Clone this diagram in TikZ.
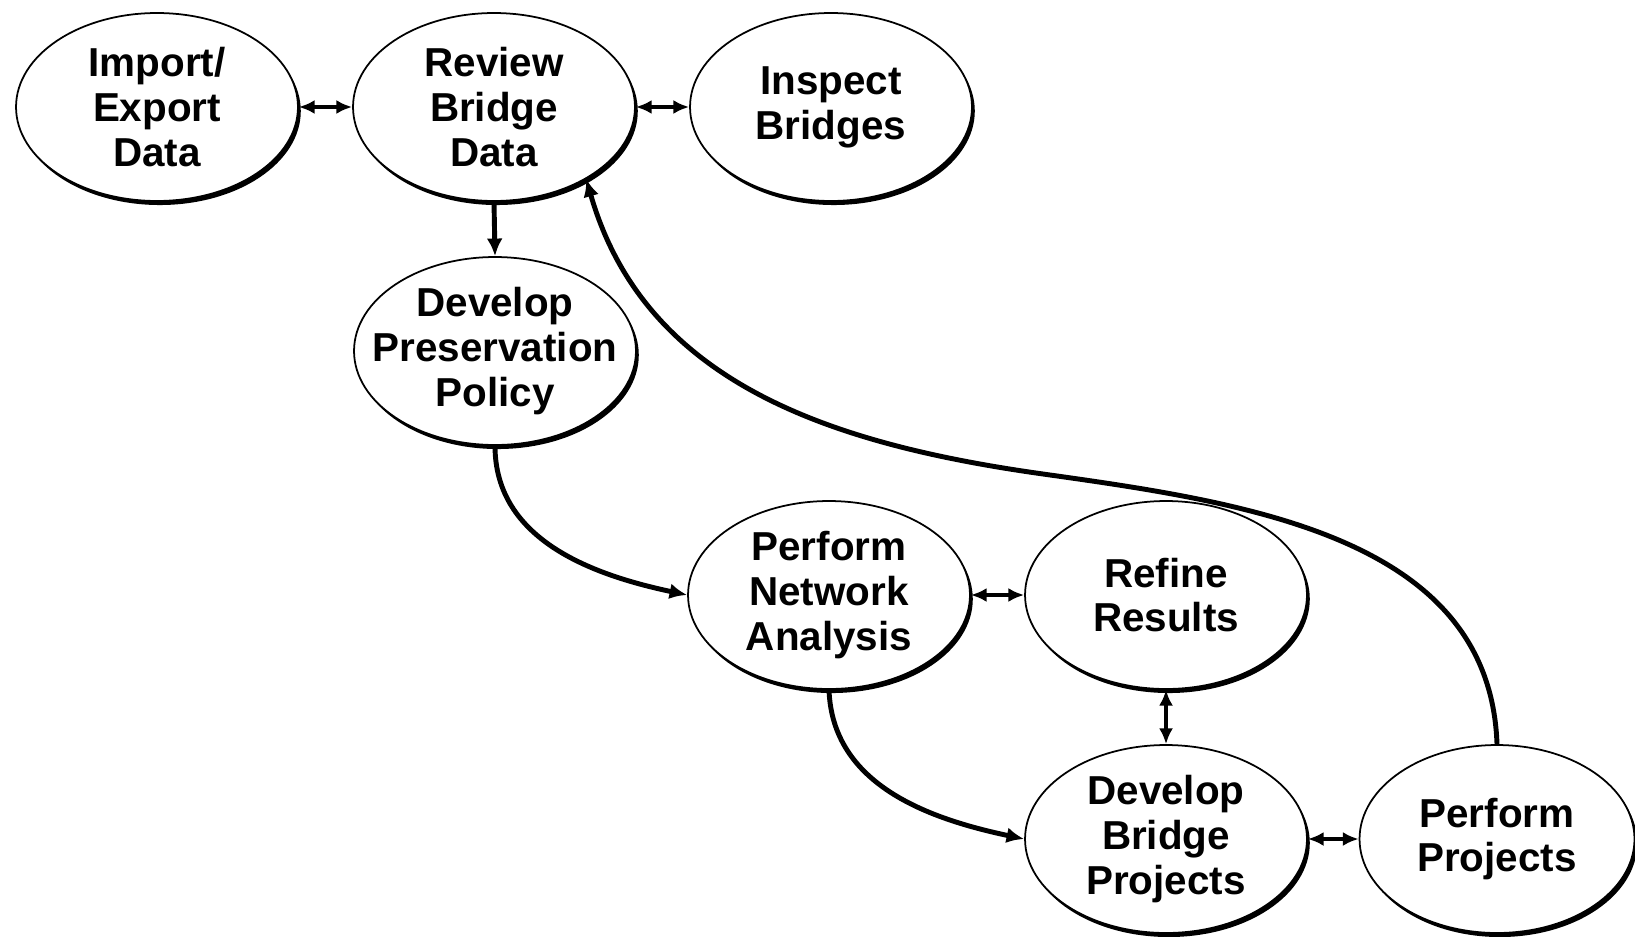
\documentclass[tikz,border=0pt]{standalone}
\usepackage{fontspec}
\setmainfont{Liberation Sans}
\usetikzlibrary{shapes.geometric,shadows,arrows.meta}
\tikzset{
  bub/.style={ellipse, draw=black, line width=1pt, fill=white,
    minimum width=5.64cm, minimum height=3.76cm, inner sep=0pt,
    drop shadow={shadow xshift=1.6pt, shadow yshift=-2.3pt, fill=black, opacity=1}},
  txt/.style={align=center, font=\bfseries\fontsize{23}{25.5}\selectfont, inner sep=0pt},
  arr/.style={line width=2.8pt, -{Latex[length=10pt,width=9pt]}},
  darr/.style={line width=2.8pt, {Latex[length=9pt,width=8pt]}-{Latex[length=9pt,width=8pt]}}
}
\begin{document}
\begin{tikzpicture}[x=0.02cm,y=0.02cm]
\useasboundingbox (0,0) rectangle (1635,-936);
% bubbles
\node[bub] (IE) at (157,-107) {};
\node[bub] (RB) at (494,-107) {};
\node[bub] (IB) at (831,-107) {};
\node[bub] (DP) at (495,-351) {};
\node[bub] (PN) at (829,-595) {};
\node[bub] (RR) at (1166,-595) {};
\node[bub] (DB) at (1166,-839) {};
\node[bub, minimum width=5.5cm] (PP) at (1497,-839) {};
% texts
\node[txt] (IEt) at (IE) {Import/\\Export\\Data};
\node[txt] (RBt) at (RB) {Review\\Bridge\\Data};
\node[txt] (IBt) at (IB) {Inspect\\Bridges};
\node[txt] (DPt) at (DP) {Develop\\Preservation\\Policy};
\node[txt] (PNt) at (PN) {Perform\\Network\\Analysis};
\node[txt] (RRt) at (RR) {Refine\\Results};
\node[txt] (DBt) at (DB) {Develop\\Bridge\\Projects};
\node[txt] (PPt) at (PP) {Perform\\Projects};
% connectors
\draw[darr] (IE.east) -- (RB.west);
\draw[darr] (RB.east) -- (IB.west);
\draw[arr] (RB.south) -- (DP.north);
\draw[arr] (DP.south) to[out=-90,in=168] (PN.west);
\draw[darr] (PN.east) -- (RR.west);
\draw[darr] (RR.south) -- (DB.north);
\draw[arr] (PN.south) to[out=-88,in=168] (DB.west);
\draw[darr] (DB.east) -- (PP.west);
\coordinate (mid) at (1043,-474);
\draw[arr] (PP.north) to[out=92,in=-8] (mid) to[out=172,in=-74] (RB.-38);
\end{tikzpicture}
\end{document}
